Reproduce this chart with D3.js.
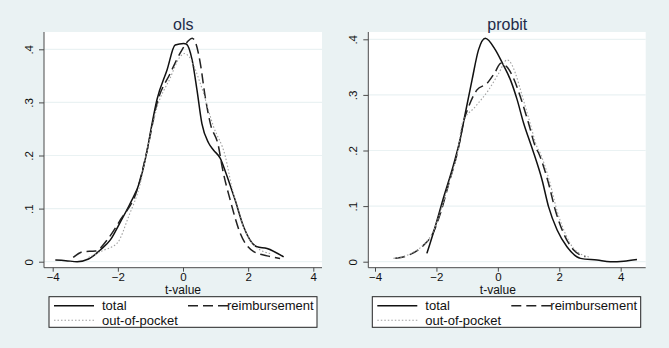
<!DOCTYPE html>
<html>
<head>
<meta charset="utf-8">
<script src="https://cdn.jsdelivr.net/npm/d3@7"></script>
<style>
  body { margin: 0; background: #eaf2f3; }
  svg { display: block; font-family: "Liberation Sans", Arial, sans-serif; }
</style>
</head>
<body>
<svg id="chart"></svg>
<script>
// kernel density estimates of t-values
const panelTitles = ['ols', 'probit'];
const seriesNames = ['total', 'reimbursement', 'out-of-pocket'];
const xTicks = [-4, -2, 0, 2, 4];
const yTicks = [0, 0.1, 0.2, 0.3, 0.4];

const olsTotal = [[-3.92,0.003],[-3.6,0.002],[-3.25,0.0],[-2.9,0.005],[-2.54,0.022],[-2.23,0.041],[-1.92,0.075],[-1.62,0.11],[-1.31,0.154],[-1.1,0.21],[-0.95,0.26],[-0.8,0.305],[-0.49,0.361],[-0.24,0.408],[0.02,0.411],[0.1,0.41],[0.28,0.38],[0.43,0.323],[0.58,0.26],[0.79,0.223],[0.94,0.21],[1.14,0.195],[1.3,0.17],[1.6,0.116],[1.86,0.066],[2.27,0.028],[2.58,0.025],[3.09,0.009]];
const olsReimb = [[-3.37,0.008],[-3.05,0.019],[-2.69,0.02],[-2.33,0.041],[-1.92,0.079],[-1.41,0.135],[-1.1,0.21],[-0.8,0.298],[-0.39,0.355],[-0.03,0.399],[0.15,0.415],[0.28,0.421],[0.4,0.41],[0.53,0.374],[0.68,0.311],[0.84,0.26],[1.09,0.217],[1.2,0.179],[1.45,0.116],[1.76,0.053],[2.17,0.019],[2.58,0.011],[2.98,0.006]];
const olsOop = [[-2.9,0.008],[-2.5,0.02],[-2.02,0.035],[-1.67,0.085],[-1.31,0.148],[-1.1,0.21],[-0.8,0.29],[-0.4,0.345],[-0.1,0.385],[0.05,0.392],[0.2,0.385],[0.53,0.336],[0.94,0.254],[1.3,0.198],[1.5,0.14],[1.8,0.075],[2.2,0.03],[2.7,0.015]];

const probTotal = [[-2.31,0.015],[-2.04,0.063],[-1.77,0.115],[-1.44,0.175],[-1.22,0.222],[-1.06,0.267],[-0.84,0.327],[-0.63,0.381],[-0.41,0.402],[-0.08,0.381],[0.14,0.358],[0.41,0.327],[0.63,0.291],[0.84,0.249],[1.06,0.213],[1.17,0.195],[1.44,0.147],[1.65,0.099],[1.93,0.057],[2.25,0.027],[2.69,0.006],[3.23,0.003],[3.66,0.0],[4.1,0.001],[4.53,0.004]];
const probReimb = [[-3.34,0.006],[-2.9,0.012],[-2.47,0.027],[-2.09,0.054],[-1.87,0.087],[-1.6,0.14],[-1.3,0.2],[-1.1,0.255],[-0.95,0.279],[-0.68,0.309],[-0.35,0.321],[-0.1,0.34],[0.1,0.357],[0.3,0.35],[0.51,0.33],[0.73,0.297],[1.0,0.249],[1.22,0.207],[1.33,0.195],[1.65,0.141],[1.87,0.093],[2.14,0.051],[2.47,0.021],[2.85,0.009]];
const probOop = [[-3.4,0.006],[-2.9,0.013],[-2.47,0.028],[-2.09,0.056],[-1.87,0.09],[-1.6,0.14],[-1.3,0.2],[-1.15,0.25],[-0.73,0.279],[-0.3,0.309],[0.03,0.339],[0.3,0.363],[0.45,0.355],[0.57,0.339],[0.8,0.297],[1.05,0.249],[1.27,0.207],[1.38,0.195],[1.7,0.141],[1.92,0.093],[2.2,0.05],[2.5,0.022],[3.0,0.008]];

const W = 669, H = 348;
const bg = '#eaf2f3';
const styles = [
  { stroke: '#111', width: 1.5, dash: null },
  { stroke: '#222', width: 1.5, dash: '10,5' },
  { stroke: '#a0a0a0', width: 1.1, dash: '1.5,2' }
];

// plot region and scale ranges for each panel
const panels = [
  { title: panelTitles[0], series: [olsTotal, olsReimb, olsOop],
    left: 44, right: 322, top: 32, bottom: 267.7,
    xr: [52.7, 313.3], yr: [261.7, 49.3], legend: { x: 49, y: 296.7, w: 268, h: 30.6 } },
  { title: panelTitles[1], series: [probTotal, probReimb, probOop],
    left: 368.3, right: 645.7, top: 32, bottom: 267.7,
    xr: [375, 620.7], yr: [261.7, 39.3], legend: { x: 372.3, y: 296.7, w: 268.4, h: 30.6 } }
];

const svg = d3.select('#chart').attr('width', W).attr('height', H);
svg.append('rect').attr('width', W).attr('height', H).attr('fill', bg);

const fmtY = d => d === 0 ? '0' : d3.format('.1f')(d).replace('0.', '.');

panels.forEach(p => {
  const g = svg.append('g');
  const x = d3.scaleLinear().domain([-4, 4]).range(p.xr);
  const y = d3.scaleLinear().domain([0, 0.4]).range(p.yr);

  g.append('rect')
    .attr('x', p.left).attr('y', p.top)
    .attr('width', p.right - p.left).attr('height', p.bottom - p.top)
    .attr('fill', '#fff');

  // gridlines
  g.selectAll('line.grid').data(yTicks).enter().append('line')
    .attr('x1', p.left).attr('x2', p.right)
    .attr('y1', d => y(d)).attr('y2', d => y(d))
    .attr('stroke', bg).attr('stroke-width', 1.2);

  // curves
  const line = d3.line().x(d => x(d[0])).y(d => y(d[1])).curve(d3.curveMonotoneX);
  p.series.forEach((s, i) => {
    g.append('path').datum(s)
      .attr('d', line)
      .attr('fill', 'none')
      .attr('stroke', styles[i].stroke)
      .attr('stroke-width', styles[i].width)
      .attr('stroke-dasharray', styles[i].dash)
      .attr('stroke-linejoin', 'round');
  });

  // axes
  const xAxis = g.append('g')
    .attr('transform', `translate(0,${p.bottom})`)
    .call(d3.axisBottom(x).tickValues(xTicks).tickSize(4).tickPadding(1).tickFormat(d3.format('d')));
  xAxis.select('.domain').attr('d', `M${p.left},0H${p.right}`);

  const yAxis = g.append('g')
    .attr('transform', `translate(${p.left},0)`)
    .call(d3.axisLeft(y).tickValues(yTicks).tickSize(5).tickFormat(fmtY));
  yAxis.select('.domain').attr('d', `M0,${p.top}V${p.bottom}`);
  yAxis.selectAll('.tick text')
    .attr('x', null).attr('dy', null)
    .attr('text-anchor', 'middle')
    .attr('transform', 'translate(-11,0) rotate(-90)');

  [xAxis, yAxis].forEach(a => {
    a.selectAll('.domain, .tick line').attr('stroke', '#4a4a4a');
    a.selectAll('.tick text').attr('fill', '#111').style('font-size', '11.5px')
      .style('font-family', '"Liberation Sans", Arial, sans-serif');
  });

  // title and axis label
  g.append('text')
    .attr('x', (p.left + p.right) / 2 + 0.3).attr('y', 30)
    .attr('text-anchor', 'middle')
    .style('font-size', '16px').attr('fill', '#1e2b48')
    .text(p.title);

  g.append('text')
    .attr('x', x(0)).attr('y', 294)
    .attr('text-anchor', 'middle')
    .style('font-size', '12px').attr('fill', '#111')
    .text('t-value');

  // legend
  const L = p.legend;
  const lg = g.append('g').attr('transform', `translate(${L.x},${L.y})`);
  lg.append('rect').attr('width', L.w).attr('height', L.h)
    .attr('fill', '#fff').attr('stroke', '#222').attr('stroke-width', 1);
  const keys = [
    { i: 0, kx: 5, ky: 9, tx: 53 },
    { i: 1, kx: 139, ky: 9, tx: 178 },
    { i: 2, kx: 5, ky: 23.5, tx: 53 }
  ];
  keys.forEach(k => {
    lg.append('line')
      .attr('x1', k.kx).attr('x2', k.kx + 40)
      .attr('y1', k.ky).attr('y2', k.ky)
      .attr('stroke', styles[k.i].stroke)
      .attr('stroke-width', styles[k.i].width)
      .attr('stroke-dasharray', styles[k.i].dash);
    lg.append('text')
      .attr('x', k.tx).attr('y', k.ky + 4.5)
      .style('font-size', '13px').attr('fill', '#111')
      .text(seriesNames[k.i]);
  });
});
</script>
</body>
</html>
